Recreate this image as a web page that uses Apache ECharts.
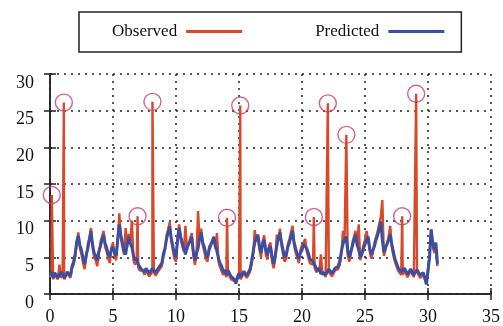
<!DOCTYPE html>
<html>
<head>
  <meta charset="UTF-8">
  <title>Observed vs Predicted</title>
  <style type="text/css">
    html, body { margin: 0; padding: 0; background: #fff; }
    #main { width: 503px; height: 326px; }
  </style>
</head>
<body>
  <div id="main"></div>
  <script type="text/javascript" src="https://cdn.jsdelivr.net/npm/echarts@6/dist/echarts.min.js"></script>
  <script type="text/javascript">
    // sampling step of the two series (time axis), one row = one time unit
    var step = 0.125;

    // predicted values, one per step starting at 0
    var predicted = [
      2.6, 3.0, 2.2, 2.9, 2.8, 2.2, 2.3, 3.0,
      2.7, 2.2, 2.4, 3.0, 2.9, 2.5, 3.8, 4.4,
      5.5, 7.2, 7.9, 6.6, 6.0, 4.8, 4.1, 5.3,
      6.2, 7.4, 8.6, 6.8, 5.6, 5.2, 4.6, 5.8,
      6.5, 7.4, 8.1, 6.9, 6.3, 5.4, 5.0, 6.1,
      6.4, 5.6, 5.2, 7.4, 9.5, 8.0, 7.0, 6.0,
      5.4, 6.8, 7.8, 6.9, 6.4, 5.2, 4.6, 4.9,
      4.0, 3.8, 3.4, 3.6, 3.0, 3.5, 3.3, 2.8,
      2.9, 3.5, 3.4, 2.9, 3.0, 3.6, 3.5, 4.2,
      5.5, 6.2, 7.5, 8.4, 9.2, 7.6, 6.5, 5.4,
      5.0, 7.4, 9.0, 7.8, 7.0, 6.2, 5.4, 6.4,
      6.8, 7.2, 7.8, 5.8, 4.6, 5.6, 6.2, 7.6,
      8.4, 7.0, 6.4, 5.4, 5.0, 6.0, 6.2, 7.2,
      7.8, 6.6, 5.8, 4.8, 4.2, 3.8, 3.0, 3.3,
      2.6, 3.2, 3.0, 2.4, 2.5, 2.0, 1.4, 2.3,
      2.8, 2.3, 2.5, 3.1, 3.0, 2.5, 2.7, 3.4,
      4.5, 5.8, 7.0, 7.6, 8.1, 6.6, 5.6, 6.8,
      7.4, 6.0, 5.3, 6.2, 6.5, 5.0, 4.1, 5.2,
      6.5, 7.6, 8.4, 7.0, 6.0, 5.0, 5.4, 6.4,
      7.0, 7.8, 8.6, 7.0, 6.2, 5.4, 4.8, 5.6,
      6.0, 6.8, 7.0, 6.2, 5.6, 4.8, 5.0, 4.4,
      4.0, 3.5, 3.2, 3.6, 2.7, 3.0, 3.2, 2.6,
      2.8, 3.4, 3.3, 2.8, 2.9, 3.5, 3.4, 3.8,
      4.5, 5.8, 6.8, 7.4, 7.8, 6.0, 5.0, 5.8,
      6.5, 7.4, 8.1, 6.8, 6.0, 5.0, 5.4, 6.2,
      6.8, 7.4, 7.8, 6.2, 5.4, 6.0, 6.5, 7.4,
      8.0, 8.8, 9.9, 7.4, 5.7, 6.4, 6.8, 7.4,
      8.1, 6.8, 5.8, 4.8, 4.2, 3.6, 3.4, 3.0,
      2.9, 3.5, 3.3, 2.7, 2.8, 3.4, 3.2, 2.6,
      2.7, 3.3, 3.1, 2.6, 2.6, 2.9, 2.2, 1.3,
      1.4, 5.0, 8.8, 7.0, 6.0, 7.0, 4.1
    ];

    // observed values, same sampling
    var observed = [
      2.3, 2.8, 2.0, 2.6, 2.6, 2.0, 4.0, 2.2,
      2.5, 2.0, 2.2, 2.8, 2.7, 2.2, 3.5, 4.0,
      5.0, 7.0, 8.4, 6.2, 5.4, 4.2, 3.4, 5.0,
      6.8, 7.6, 9.0, 6.4, 5.0, 4.6, 3.8, 5.4,
      7.0, 7.8, 8.6, 6.4, 5.8, 4.8, 4.2, 6.4,
      7.0, 5.2, 4.6, 7.6, 11.0, 7.6, 6.4, 5.4,
      9.0, 6.4, 8.2, 7.2, 10.0, 4.6, 4.0, 4.4,
      3.6, 3.2, 3.0, 3.2, 2.6, 3.2, 3.0, 2.4,
      2.5, 3.0, 3.0, 2.5, 2.6, 3.2, 3.1, 3.8,
      5.0, 6.0, 8.0, 8.8, 9.8, 7.2, 6.0, 4.8,
      4.4, 7.8, 9.5, 7.4, 6.5, 5.8, 9.3, 6.0,
      6.2, 7.6, 8.3, 5.2, 4.0, 5.2, 11.3, 7.2,
      8.9, 6.6, 5.8, 4.8, 4.4, 6.4, 6.8, 6.8,
      7.4, 6.2, 8.3, 4.4, 3.6, 3.4, 2.6, 3.0,
      2.3, 2.8, 2.6, 2.0, 2.2, 1.8, 1.6, 2.0,
      2.5, 2.0, 2.2, 2.8, 2.7, 2.2, 2.4, 3.0,
      4.0, 5.4, 8.7, 7.2, 7.6, 6.0, 5.0, 7.2,
      8.0, 5.4, 4.7, 6.6, 7.0, 4.4, 3.5, 4.8,
      8.1, 7.4, 8.9, 6.6, 5.4, 4.4, 4.8, 6.8,
      7.5, 7.4, 9.3, 6.6, 5.6, 5.0, 4.2, 6.0,
      6.6, 6.4, 7.5, 5.8, 5.0, 4.2, 4.4, 4.0,
      3.6, 3.0, 2.9, 3.2, 5.4, 2.6, 2.9, 2.3,
      2.5, 3.0, 3.0, 2.4, 2.6, 3.2, 3.1, 3.4,
      4.0, 5.4, 8.6, 7.0, 7.2, 5.4, 4.4, 5.4,
      7.0, 7.0, 8.6, 6.4, 9.5, 4.6, 4.8, 6.6,
      7.4, 8.6, 7.4, 5.8, 4.8, 5.6, 7.0, 7.0,
      8.5, 8.4, 10.5, 12.8, 5.2, 6.0, 6.2, 7.8,
      9.3, 6.4, 5.2, 4.4, 3.8, 3.2, 3.0, 2.6,
      2.6, 3.2, 3.0, 2.3, 2.5, 3.1, 2.9, 2.3,
      2.4, 3.0, 2.8, 2.2, 2.4, 2.6, 2.0, 1.4,
      1.5, 5.4, 8.8, 6.6, 5.6, 6.6, 3.8
    ];

    // circled peaks of the observed series [time, value]
    var peaks = [
      [0.14, 13.5], [1.1, 26.1], [6.95, 10.6], [8.13, 26.2],
      [14.05, 10.4], [15.1, 25.7], [20.94, 10.5], [22.05, 26.0],
      [23.52, 21.7], [27.95, 10.6], [29.06, 27.3]
    ];

    var xTicks = [0, 5, 10, 15, 20, 25, 30, 35];
    var yTicks = [0, 5, 10, 15, 20, 25, 30];

    var predData = predicted.map(function (v, i) { return [i * step, v]; });
    var obsData = observed.map(function (v, i) { return [i * step, v]; })
      .concat(peaks)
      .sort(function (a, b) { return a[0] - b[0]; });

    var serif = "'Liberation Serif', 'Times New Roman', serif";
    var ink = '#222';

    function frameAxis(pos, ticks) {
      return {
        type: 'value',
        position: pos,
        min: ticks[0],
        max: ticks[ticks.length - 1],
        interval: 5,
        axisLine: { show: true, lineStyle: { color: ink, width: 1.5 } },
        axisTick: { show: true, inside: true, length: 6, lineStyle: { color: ink, width: 1.5 } },
        axisLabel: { show: false },
        splitLine: { show: false }
      };
    }

    var myChart = echarts.init(document.getElementById('main'));
    var option = {
      animation: false,
      backgroundColor: '#fff',
      textStyle: { fontFamily: serif },
      legend: {
        data: ['Observed', 'Predicted'],
        left: 79,
        top: 12,
        align: 'right',
        icon: 'rect',
        itemWidth: 56,
        itemHeight: 3,
        itemGap: 73,
        padding: [11, 17, 12, 33],
        borderColor: ink,
        borderWidth: 1.5,
        borderRadius: 0,
        textStyle: { fontFamily: serif, fontSize: 17, color: '#111', padding: [0, 4, 0, 0] }
      },
      grid: { left: 50, right: 9, top: 74, bottom: 29 },
      xAxis: [{
        type: 'value',
        min: xTicks[0],
        max: xTicks[xTicks.length - 1],
        interval: 5,
        axisLine: { lineStyle: { color: ink, width: 1.5 } },
        axisTick: { inside: true, length: 6, lineStyle: { color: ink, width: 1.5 } },
        axisLabel: { fontFamily: serif, fontSize: 18, color: '#111', margin: 14 },
        splitLine: { show: true, lineStyle: { color: ink, width: 1.5, type: [2, 5] } }
      }, frameAxis('top', xTicks)],
      yAxis: [{
        type: 'value',
        min: yTicks[0],
        max: yTicks[yTicks.length - 1],
        interval: 5,
        axisLine: { show: true, lineStyle: { color: ink, width: 1.5 } },
        axisTick: { show: true, inside: true, length: 6, lineStyle: { color: ink, width: 1.5 } },
        axisLabel: { fontFamily: serif, fontSize: 18, color: '#111', margin: 16, verticalAlign: 'top' },
        splitLine: { show: true, lineStyle: { color: ink, width: 1.5, type: [2, 5] } }
      }, frameAxis('right', yTicks)],
      series: [{
        name: 'Observed',
        type: 'line',
        data: obsData,
        symbol: 'none',
        color: '#d9482a',
        lineStyle: { color: '#d9482a', width: 2.4 }
      }, {
        name: 'Predicted',
        type: 'line',
        data: predData,
        symbol: 'none',
        color: '#3a4fa2',
        lineStyle: { color: '#3a4fa2', width: 3 }
      }, {
        name: 'peaks',
        type: 'scatter',
        data: peaks,
        symbol: 'circle',
        symbolSize: 17,
        clip: false,
        itemStyle: { color: 'rgba(0,0,0,0)', borderColor: '#cc3a74', borderWidth: 1.4 }
      }]
    };
    myChart.setOption(option);
  </script>
</body>
</html>
